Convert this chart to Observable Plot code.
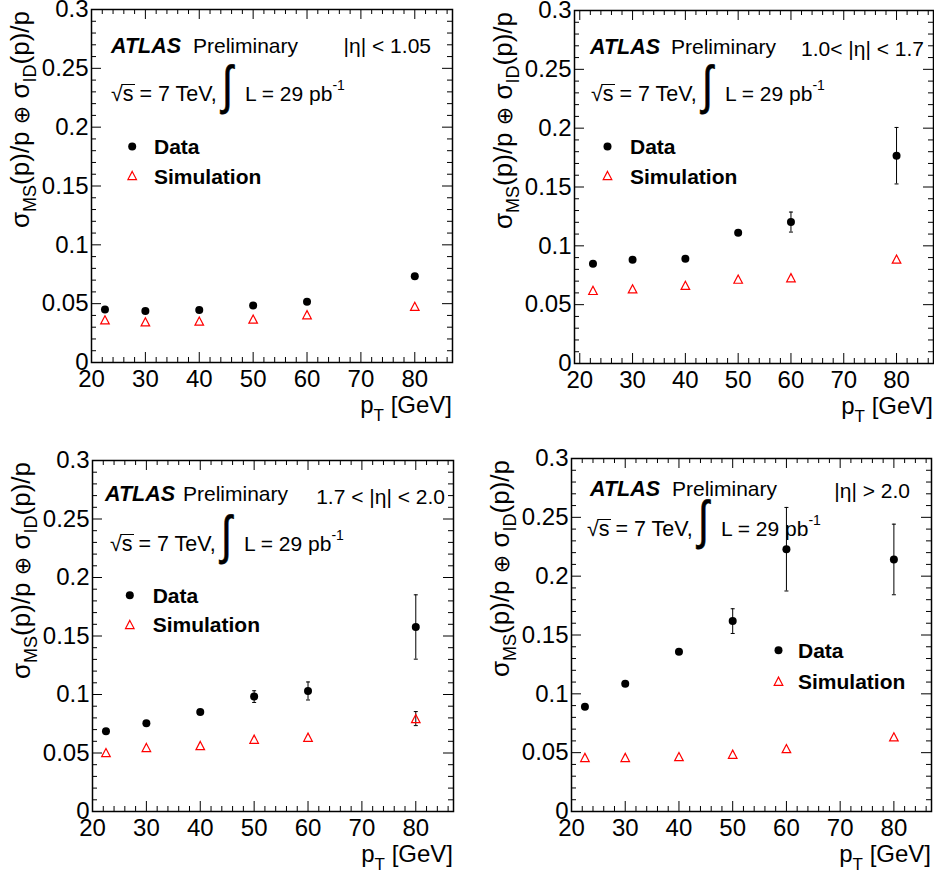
<!DOCTYPE html>
<html>
<head>
<meta charset="utf-8">
<script src="https://cdn.jsdelivr.net/npm/d3@7"></script>
<script src="https://cdn.jsdelivr.net/npm/@observablehq/plot@0.6"></script>
<style>
  body { margin: 0; background: #fff; }
  #root { position: relative; width: 934px; height: 878px; background: #fff; }
  .panel { position: absolute; width: 467px; height: 439px; }
</style>
</head>
<body>
<div id="root"></div>
<script>
// ---------------- data ----------------
const ptBins = [22.5, 30, 40, 50, 60, 80];
const etaLabels = ["|η| < 1.05", "1.0< |η| < 1.7", "1.7 < |η| < 2.0", "|η| > 2.0"];

const p1Data    = [0.0451, 0.0437, 0.0446, 0.0485, 0.0517, 0.0732];
const p1DataErr = [0, 0, 0, 0, 0, 0];
const p1Sim     = [0.0363, 0.0346, 0.0352, 0.0369, 0.0406, 0.0477];
const p1SimErr  = [0, 0, 0, 0, 0, 0];

const p2Data    = [0.0848, 0.0882, 0.0890, 0.1111, 0.1202, 0.1766];
const p2DataErr = [0, 0, 0, 0, 0.0085, 0.0240];
const p2Sim     = [0.0621, 0.0635, 0.0664, 0.0717, 0.0729, 0.0887];
const p2SimErr  = [0, 0, 0, 0, 0, 0];

const p3Data    = [0.0686, 0.0754, 0.0851, 0.0982, 0.1030, 0.1577];
const p3DataErr = [0, 0, 0, 0.0050, 0.0077, 0.0275];
const p3Sim     = [0.0504, 0.0547, 0.0564, 0.0618, 0.0635, 0.0794];
const p3SimErr  = [0, 0, 0, 0, 0, 0.0060];

const p4Data    = [0.0890, 0.1085, 0.1357, 0.1618, 0.2229, 0.2142];
const p4DataErr = [0, 0, 0, 0.0105, 0.0355, 0.0300];
const p4Sim     = [0.0459, 0.0459, 0.0467, 0.0487, 0.0535, 0.0635];
const p4SimErr  = [0, 0, 0, 0, 0, 0];

const yTickValues = [0, 0.05, 0.1, 0.15, 0.2, 0.25, 0.3];
const yTickLabels = ["0", "0.05", "0.1", "0.15", "0.2", "0.25", "0.3"];
const yMajorInner = [0.05, 0.1, 0.15, 0.2, 0.25];
const yMinorInner = [0.01,0.02,0.03,0.04,0.06,0.07,0.08,0.09,0.11,0.12,0.13,0.14,0.16,0.17,0.18,0.19,0.21,0.22,0.23,0.24,0.26,0.27,0.28,0.29];
const xTickValues = [20, 30, 40, 50, 60, 70, 80];
const xMinorValues = [22,24,26,28,32,34,36,38,42,44,46,48,52,54,56,58,62,64,66,68,72,74,76,78,82,84,86];

const series = [
  {data: p1Data, dataErr: p1DataErr, sim: p1Sim, simErr: p1SimErr},
  {data: p2Data, dataErr: p2DataErr, sim: p2Sim, simErr: p2SimErr},
  {data: p3Data, dataErr: p3DataErr, sim: p3Sim, simErr: p3SimErr},
  {data: p4Data, dataErr: p4DataErr, sim: p4Sim, simErr: p4SimErr}
];

// ---------------- layout ----------------
const FONT = '"Liberation Sans", Arial, Helvetica, sans-serif';
const W = 467, H = 439;
const layout = [
  {left: 0,   top: 0,   mL: 91,  mT: 9,  mR: 15, mB: 77, xMin: 20,
   a: {atlasX: 111, bl1: 52.5, prelimX: 193, etaR: 431, etaBl: 52.5, l2X: 111, bl2: 101,
       legX: 131.7, dotY: 146, triY: 175, legTextX: 154, dataBl: 154, simBl: 184}},
  {left: 467, top: 0,   mL: 107, mT: 10, mR: 1,  mB: 76, xMin: 19,
   a: {atlasX: 123, bl1: 54, prelimX: 204, etaR: 457, etaBl: 56, l2X: 124, bl2: 101,
       legX: 140, dotY: 146, triY: 175, legTextX: 163, dataBl: 154, simBl: 184}},
  {left: 0,   top: 439, mL: 92,  mT: 21, mR: 14, mB: 67, xMin: 20,
   a: {atlasX: 105, bl1: 62, prelimX: 183, etaR: 445, etaBl: 65, l2X: 110, bl2: 112,
       legX: 129.3, dotY: 155.7, triY: 185, legTextX: 152.7, dataBl: 163.5, simBl: 193}},
  {left: 467, top: 439, mL: 104, mT: 19, mR: 3,  mB: 67, xMin: 20,
   a: {atlasX: 123, bl1: 57, prelimX: 205, etaR: 443, etaBl: 59, l2X: 120, bl2: 97,
       legX: 311, dotY: 210.7, triY: 241.7, legTextX: 331, dataBl: 218.5, simBl: 249.5}}
];

// custom marker symbols
const triSymbol = {draw(ctx, size) {
  const r = Math.sqrt(size / Math.PI), w = 1.1 * r, h = 2.1 * r;
  ctx.moveTo(0, -h / 2); ctx.lineTo(w, h / 2); ctx.lineTo(-w, h / 2); ctx.closePath();
}};
const capSymbol = {draw(ctx, size) {
  const r = Math.sqrt(size / Math.PI);
  ctx.moveTo(-r, 0); ctx.lineTo(r, 0);
}};

// rich text helper (sub/superscripts via tspans)
function rich(svg, x, y, parts, {size = 21, anchor = "start", rotate = false} = {}) {
  const t = d3.select(svg).append("text")
    .attr("x", x).attr("y", y)
    .attr("font-family", FONT).attr("font-size", size)
    .attr("text-anchor", anchor).attr("fill", "black");
  if (rotate) t.attr("transform", `rotate(-90 ${x} ${y})`);
  let cur = 0;
  for (const p of parts) {
    const s = t.append("tspan").text(p.t);
    const shift = p.shift || 0;
    if (shift !== cur) { s.attr("dy", shift - cur); cur = shift; }
    if (p.size) s.attr("font-size", p.size);
    if (p.bold) s.attr("font-weight", "bold");
    if (p.italic) s.attr("font-style", "italic");
    if (p.family) s.attr("font-family", p.family);
  }
  return t;
}

const root = document.getElementById("root");

layout.forEach((L, k) => {
  const S = series[k];
  const pw = W - L.mL - L.mR, ph = H - L.mT - L.mB;
  const dataRows = ptBins.map((pt, i) => ({pt, v: S.data[i], e: S.dataErr[i]}));
  const simRows = ptBins.map((pt, i) => ({pt, v: S.sim[i], e: S.simErr[i]}));
  const errRows = dataRows.concat(simRows).filter(d => d.e > 0);
  const capRows = errRows.flatMap(d => [{pt: d.pt, v: d.v - d.e}, {pt: d.pt, v: d.v + d.e}]);
  const a = L.a;

  const svg = Plot.plot({
    width: W, height: H,
    marginLeft: L.mL, marginTop: L.mT, marginRight: L.mR, marginBottom: L.mB,
    x: {domain: [L.xMin, 87]},
    y: {domain: [0, 0.3]},
    style: {fontFamily: FONT, fontSize: "24px", color: "black", background: "white", overflow: "visible"},
    marks: [
      // inner ticks (ROOT style, all four sides)
      Plot.tickY(yMajorInner, {y: d => d, insetRight: pw - 10, stroke: "black", strokeWidth: 1}),
      Plot.tickY(yMajorInner, {y: d => d, insetLeft: pw - 10, stroke: "black", strokeWidth: 1}),
      Plot.tickY(yMinorInner, {y: d => d, insetRight: pw - 5, stroke: "black", strokeWidth: 1}),
      Plot.tickY(yMinorInner, {y: d => d, insetLeft: pw - 5, stroke: "black", strokeWidth: 1}),
      Plot.tickX(xTickValues, {x: d => d, insetTop: ph - 10, stroke: "black", strokeWidth: 1}),
      Plot.tickX(xTickValues, {x: d => d, insetBottom: ph - 10, stroke: "black", strokeWidth: 1}),
      Plot.tickX(xMinorValues, {x: d => d, insetTop: ph - 5, stroke: "black", strokeWidth: 1}),
      Plot.tickX(xMinorValues, {x: d => d, insetBottom: ph - 5, stroke: "black", strokeWidth: 1}),
      Plot.frame({stroke: "black", strokeWidth: 1.5}),
      Plot.axisY({ticks: yTickValues, tickSize: 0, tickPadding: 3, label: null,
                  tickFormat: d => yTickLabels[yTickValues.indexOf(d)], fontSize: 24}),
      Plot.axisX({ticks: xTickValues, tickSize: 0, tickPadding: 7, label: null,
                  tickFormat: d => String(d), fontSize: 24}),
      // error bars
      Plot.ruleX(errRows, {x: "pt", y1: d => d.v - d.e, y2: d => d.v + d.e, stroke: "black", strokeWidth: 1}),
      Plot.dot(capRows, {x: "pt", y: "v", symbol: capSymbol, r: 2, stroke: "black", strokeWidth: 1, fill: "none"}),
      // simulation (open red triangles)
      Plot.dot(simRows, {x: "pt", y: "v", symbol: triSymbol, r: 3.9, stroke: "#ff0000", strokeWidth: 1.2, fill: "none"}),
      // data (filled black circles)
      Plot.dot(dataRows, {x: "pt", y: "v", r: 4, fill: "black", stroke: "none"}),
      // legend markers
      Plot.dot([0], {frameAnchor: "top-left", dx: a.legX - L.mL, dy: a.dotY - L.mT, r: 4, fill: "black", stroke: "none"}),
      Plot.dot([0], {frameAnchor: "top-left", dx: a.legX - L.mL, dy: a.triY - L.mT, symbol: triSymbol, r: 3.9, stroke: "#ff0000", strokeWidth: 1.2, fill: "none"})
    ]
  });

  // ATLAS Preliminary
  rich(svg, a.atlasX, a.bl1, [{t: "ATLAS", bold: true, italic: true}], {size: 21.5});
  rich(svg, a.prelimX, a.bl1, [{t: "Preliminary"}]);
  rich(svg, a.etaR, a.etaBl, [{t: etaLabels[k]}], {anchor: "end"});
  // sqrt(s) = 7 TeV, int L = 29 pb^-1
  rich(svg, a.l2X, a.bl2, [{t: "√"}, {t: "s = 7 TeV,"}], {size: 21.5});
  d3.select(svg).append("line")
    .attr("x1", a.l2X + 10.5).attr("x2", a.l2X + 24)
    .attr("y1", a.bl2 - 16.5).attr("y2", a.bl2 - 16.5)
    .attr("stroke", "black").attr("stroke-width", 1);
  const ix = a.l2X + 111;
  rich(svg, ix, a.bl2 + 1.2, [{t: "∫"}], {size: 30})
    .attr("stroke", "black").attr("stroke-width", 0.4)
    .attr("transform", `translate(${ix} ${a.bl2}) scale(1.3 1.75) translate(${-ix} ${-a.bl2})`);
  rich(svg, a.l2X + 134, a.bl2, [{t: "L = 29 pb"}, {t: "-1", size: 14, shift: -11}]);
  // legend text
  rich(svg, a.legTextX, a.dataBl, [{t: "Data", bold: true}]);
  rich(svg, a.legTextX, a.simBl, [{t: "Simulation", bold: true}]);
  // axis titles
  rich(svg, L.mL - 62, L.mT + 2, [
    {t: "σ"}, {t: "MS", size: 18, shift: 7}, {t: "(p)/p "},
    {t: "⊕", size: 22, family: "DejaVu Sans"}, {t: " σ"},
    {t: "ID", size: 18, shift: 7}, {t: "(p)/p"}
  ], {size: 26, anchor: "end", rotate: true});
  rich(svg, W - L.mR, H - L.mB + 51, [
    {t: "p"}, {t: "T", size: 17, shift: 8}, {t: " [GeV]"}
  ], {size: 24, anchor: "end"});

  const div = document.createElement("div");
  div.className = "panel";
  div.style.left = L.left + "px";
  div.style.top = L.top + "px";
  div.appendChild(svg);
  root.appendChild(div);
});
</script>
</body>
</html>
